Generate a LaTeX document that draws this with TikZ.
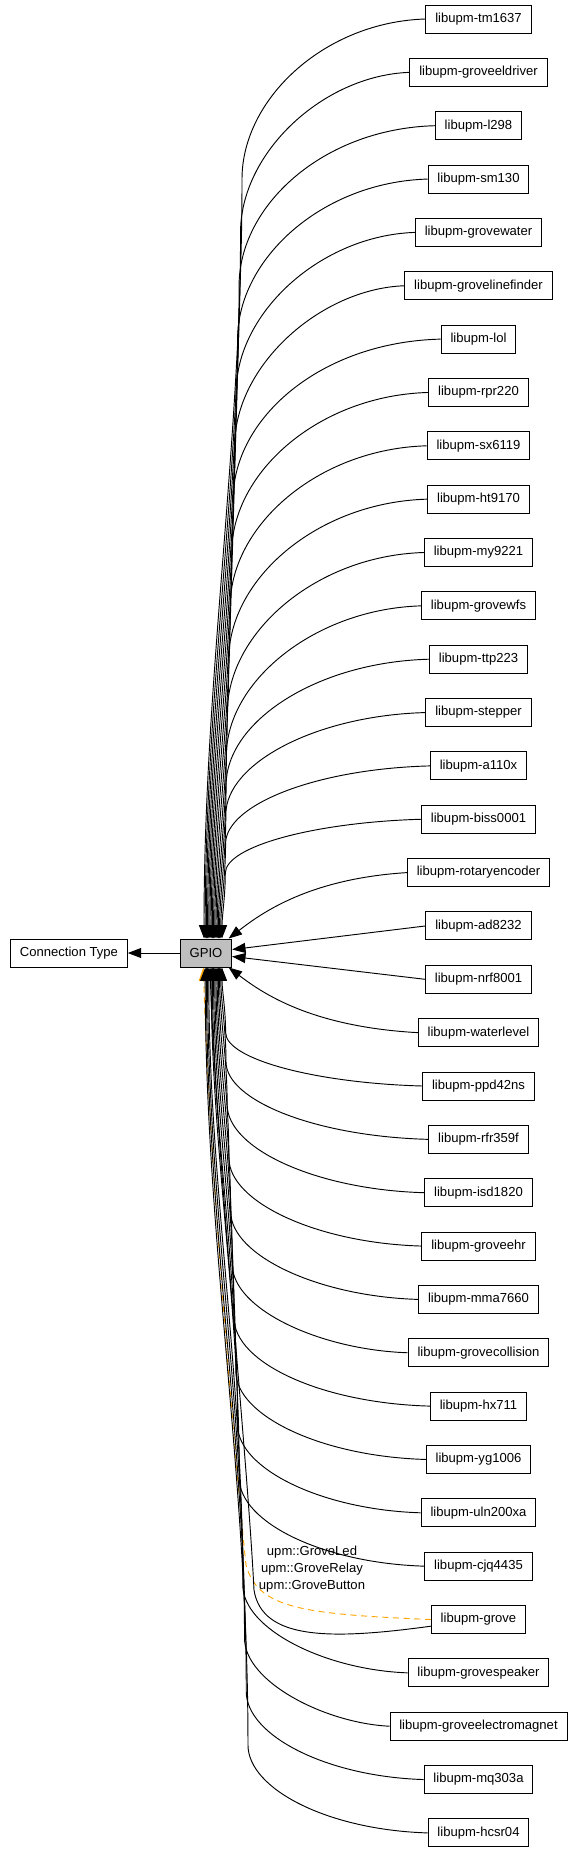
\documentclass[tikz,border=0pt]{standalone}
\usepackage{fontspec}
\setmainfont{Liberation Sans}
\usetikzlibrary{shapes,arrows,positioning,arrows.meta}
\usepackage{xcolor}
\definecolor{gpiogray}{HTML}{BFBFBF}
\definecolor{tagorange}{HTML}{FFA500}
\newcommand{\upmlibs}{tm1637,groveeldriver,l298,sm130,grovewater,grovelinefinder,lol,rpr220,sx6119,ht9170,my9221,grovewfs,ttp223,stepper,a110x,biss0001,rotaryencoder,ad8232,nrf8001,waterlevel,ppd42ns,rfr359f,isd1820,groveehr,mma7660,grovecollision,hx711,yg1006,uln200xa,cjq4435,grove,grovespeaker,groveelectromagnet,mq303a,hcsr04}

\begin{document}
\begin{tikzpicture}[x=0.75pt,y=-0.75pt]
    \tikzstyle{block} = [rectangle, draw, fill=white, line width=0.75pt,
    minimum height=21pt, inner xsep=7pt,
    font=\fontsize{9.8}{11}\selectfont]
    \tikzstyle{line} = [draw, line width=0.7pt, -{Triangle[length=10pt,width=7.5pt]}]
    \tikzstyle{tagline} = [line, tagorange, dash pattern=on 4.5pt off 3.5pt]
    \tikzstyle{tag} = [align=center, inner sep=0pt, font=\fontsize{9.8}{13}\selectfont]

    \useasboundingbox (0,0) rectangle (573,1853);

    % Define nodes
    \node [block, fill=gpiogray] (gpio) at (206,953) {GPIO};
    \node [block, left=39pt of gpio] (conntype) {Connection Type};
    \foreach \name [count=\i from 0] in \upmlibs
      \node [block] (\name) at (478.5,{19+53.35*\i}) {libupm-\name};

    % Grove edges
    \path [tagline] (grove.west) .. controls (300,1614) and (258,1608) .. (246,1565)
      .. controls (234,1450) and (209,1150) .. ([xshift=-2pt]gpio.south);
    \node [tag] (grovetags) at (312,1569) {upm::GroveLed\\upm::GroveRelay\\upm::GroveButton};
    \path [line] ([yshift=-5pt]grove.west) .. controls (330,1640) and (262,1640) .. (254,1590)
      .. controls (247,1450) and (216,1150) .. ([xshift=3pt]gpio.south);

    % Library edges
    \foreach \name [count=\i from 0] in \upmlibs {
      \pgfmathsetmacro{\yo}{19+53.35*\i}
      \pgfmathtruncatemacro{\up}{\i<18}
      \pgfmathtruncatemacro{\k}{\up ? 17-\i : \i-18}
      \pgfmathsetmacro{\s}{\up ? 1 : -1}
      \pgfmathsetmacro{\ye}{\up ? 939 : 967}
      \pgfmathsetmacro{\dd}{abs(\ye-\yo)}
      \pgfmathsetmacro{\bb}{\up ? min(160,0.45*\dd) : min(88,0.45*\dd)}
      \pgfmathsetmacro{\xe}{222-(\k-2)*1.2}
      \pgfmathsetmacro{\dx}{(\xe-206)*0.75}
      \pgfmathsetmacro{\yc}{\yo+\s*\bb}
      \pgfmathsetmacro{\ll}{abs(\ye-\yc)}
      \pgfmathsetmacro{\xc}{\xe+(\up ? 0.05 : 0.055)*\ll}
      \pgfmathsetmacro{\xa}{\xc+0.45*(425-\xc)}
      \pgfmathsetmacro{\ya}{\yo+\s*3}
      \pgfmathsetmacro{\yb}{\yc-\s*0.5*\bb}
      \pgfmathsetmacro{\yd}{\yc+\s*0.35*\ll}
      \pgfmathsetmacro{\yf}{\ye-\s*0.35*\ll}
      \ifnum\up=1 \def\side{north}\else\def\side{south}\fi
      \ifnum\k=0
        \path [line] (\name.west) -- ([yshift=\s*2.6pt]gpio.east);
      \else\ifnum\k=1
        \path [line] (\name.west) .. controls (310,{\yo+\s*6}) and (262,{\yo+\s*40}) .. ([xshift=17pt]gpio.\side);
      \else\ifnum\i=30
      \else
        \path [line] (\name.west) .. controls (\xa,\ya) and (\xc,\yb) .. (\xc,\yc)
          .. controls (\xc,\yd) and (\xe,\yf) .. ([xshift=\dx pt]gpio.\side);
      \fi\fi\fi
    }

    \path [line] (gpio.west) -- (conntype.east);

\end{tikzpicture}
\end{document}
